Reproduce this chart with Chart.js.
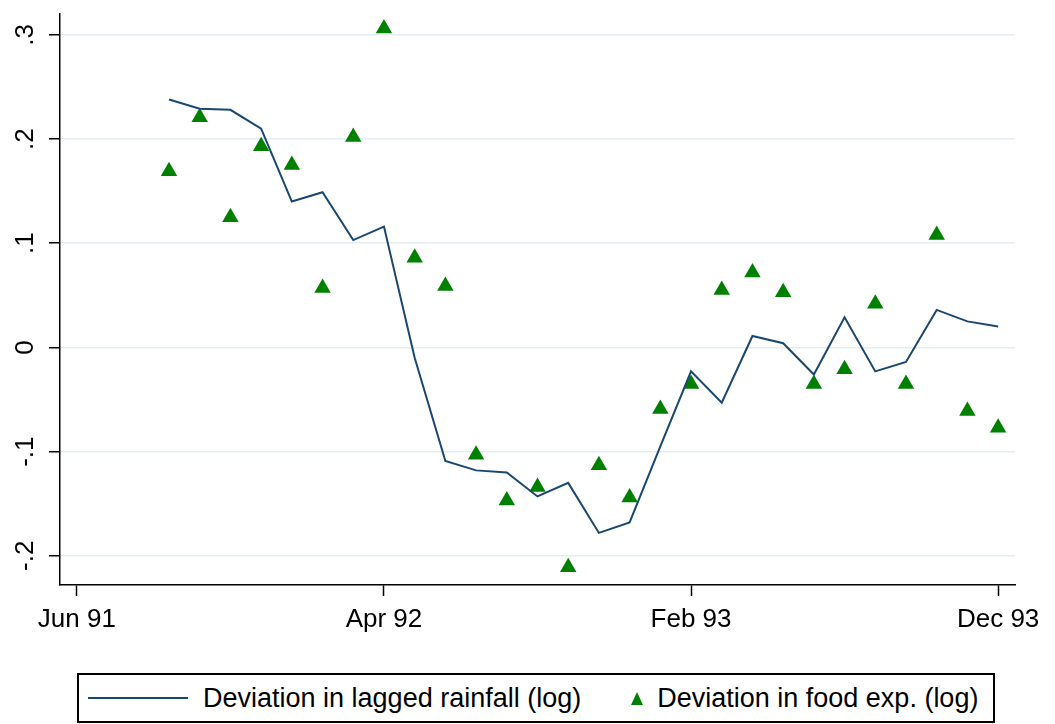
<!DOCTYPE html>
<html>
<head>
<meta charset="utf-8">
<script src="https://cdn.jsdelivr.net/npm/chart.js@4/dist/chart.umd.min.js"></script>
<style>
  body { margin: 0; background: #fff; }
  #wrap { position: relative; width: 1055px; height: 724px; font-family: "Liberation Sans", Arial, sans-serif; }
  #box { position: absolute; left: 0; top: 0; width: 1055px; height: 660px; }
  #legend { position: absolute; left: 77px; top: 673px; width: 914px; height: 46px; border: 2px solid #000;
            display: flex; align-items: center; font-size: 27px; color: #000; white-space: nowrap; }
  .swatch-line { display: inline-block; width: 100px; height: 2px; background: #1a476f; margin: 0 15px 0 9px; }
  .swatch-tri { display: inline-block; width: 0; height: 0; border-left: 6px solid transparent; border-right: 6px solid transparent;
                border-bottom: 13px solid #008000; margin: 0 14px 0 50px; }
</style>
</head>
<body>
<div id="wrap">
  <div id="box"><canvas id="myChart"></canvas></div>
  <div id="legend">
    <span class="swatch-line"></span><span>Deviation in lagged rainfall (log)</span>
    <span class="swatch-tri"></span><span>Deviation in food exp. (log)</span>
  </div>
</div>
<script>
// months with observations (Jun 91 = month 0 on the axis)
const months = ["Sep 91","Oct 91","Nov 91","Dec 91","Jan 92","Feb 92","Mar 92","Apr 92","May 92","Jun 92",
                "Jul 92","Aug 92","Sep 92","Oct 92","Nov 92","Dec 92","Jan 93","Feb 93","Mar 93","Apr 93",
                "May 93","Jun 93","Jul 93","Aug 93","Sep 93","Oct 93","Nov 93","Dec 93"];
const firstMonth = 3;

const rainfall = [0.238, 0.229, 0.228, 0.210, 0.140, 0.149, 0.103, 0.116, -0.010, -0.109,
                  -0.118, -0.120, -0.143, -0.130, -0.178, -0.168, -0.095, -0.023, -0.053, 0.011,
                  0.004, -0.026, 0.029, -0.023, -0.014, 0.036, 0.025, 0.020];

const foodExp = [0.169, 0.221, 0.125, 0.193, 0.175, 0.057, 0.202, 0.306, 0.086, 0.059,
                 -0.103, -0.147, -0.134, -0.211, -0.113, -0.144, -0.059, -0.035, 0.055, 0.072,
                 0.053, -0.035, -0.021, 0.042, -0.035, 0.108, -0.061, -0.077];

const xTickLabels = ["Jun 91", "Apr 92", "Feb 93", "Dec 93"];
const yTickValues = [-0.2, -0.1, 0, 0.1, 0.2, 0.3];
const yTickLabels = ["-.2", "-.1", "0", ".1", ".2", ".3"];

const pts = arr => arr.map((v, i) => ({ x: i + firstMonth, y: v }));

let ctx = document.getElementById("myChart").getContext("2d");

let chart = new Chart(ctx, {
  type: "scatter",
  data: {
    datasets: [
      {
        label: "Deviation in lagged rainfall (log)",
        data: pts(rainfall),
        showLine: true,
        borderColor: "#1a476f",
        borderWidth: 2,
        pointRadius: 0,
        tension: 0
      },
      {
        label: "Deviation in food exp. (log)",
        data: pts(foodExp),
        pointStyle: "triangle",
        pointRadius: 9.5,
        backgroundColor: "#008000",
        borderColor: "#008000",
        borderWidth: 0
      }
    ]
  },
  options: {
    responsive: true,
    maintainAspectRatio: false,
    animation: false,
    layout: { padding: { left: 0, right: 40, top: 14, bottom: 0 } },
    plugins: { legend: { display: false }, tooltip: { enabled: false } },
    scales: {
      x: {
        type: "linear",
        min: -0.55,
        max: 30.55,
        afterBuildTicks: s => { s.ticks = xTickLabels.map((t, i) => ({ value: i * 10 })); },
        afterFit: s => { s.height = 75; s.paddingLeft = 0; s.paddingRight = 0; },
        ticks: {
          callback: (v, i) => xTickLabels[i],
          font: { family: "Liberation Sans", size: 26 },
          color: "#000",
          padding: 8,
          maxRotation: 0
        },
        grid: { drawOnChartArea: false, tickLength: 11, tickColor: "#000", tickWidth: 1.5 },
        border: { color: "#000", width: 1.5 }
      },
      y: {
        min: -0.228,
        max: 0.32,
        afterBuildTicks: s => { s.ticks = yTickValues.map(v => ({ value: v })); },
        afterFit: s => { s.width = 60; s.paddingTop = 0; s.paddingBottom = 0; },
        ticks: {
          callback: (v, i) => yTickLabels[i],
          font: { family: "Liberation Sans", size: 26 },
          color: "#000",
          minRotation: 90,
          maxRotation: 90,
          crossAlign: "center",
          padding: 8
        },
        grid: { color: "#e4eef0", lineWidth: 1.5, tickLength: 11, tickColor: "#000", tickWidth: 1.5 },
        border: { color: "#000", width: 1.5 }
      }
    }
  }
});
</script>
</body>
</html>
